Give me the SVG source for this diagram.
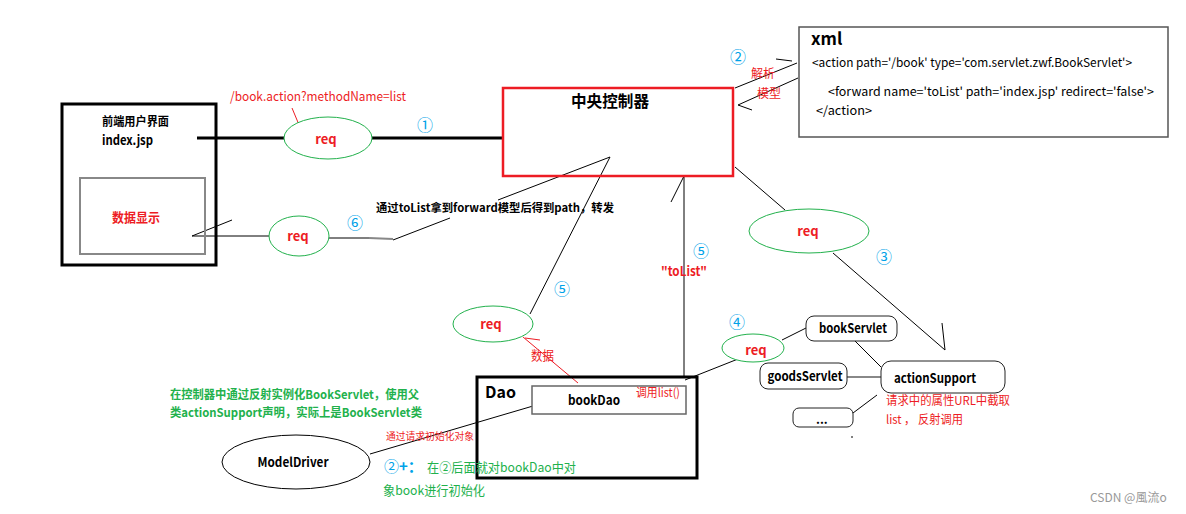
<svg xmlns="http://www.w3.org/2000/svg" width="1186" height="514" viewBox="0 0 1186 514">
<style>
text{font-family:"Microsoft YaHei","Noto Sans CJK SC","Liberation Sans",sans-serif}
.b{font-weight:bold}
.red{fill:#ed1c24}
.grn{fill:#22b14c}
.blu{fill:#00a2e8}
.blk{fill:#000}
.ln{stroke:#000;stroke-width:1;fill:none}
.gl{stroke:#888;stroke-width:2;fill:none}
.ge{stroke:#22b14c;stroke-width:1;fill:#fff}
.rb{stroke:#222;stroke-width:1;fill:#fff}
.num{fill:#00a2e8;font-size:16px}
</style>
<rect width="1186" height="514" fill="#fff"/>

<g id="connectors">
  <!-- index.jsp -> controller -->
  <line x1="197" y1="138" x2="284" y2="138" stroke="#000" stroke-width="3"/>
  <line x1="372" y1="138" x2="503" y2="138" stroke="#000" stroke-width="3"/>
  <line x1="292" y1="108" x2="302" y2="132" stroke="#ed1c24" stroke-width="1"/>
  <!-- forward back to 数据显示 -->
  <polyline class="ln" points="232,220 192,236 270,236"/>
  <line x1="329" y1="238" x2="369" y2="238" class="ln"/>
  <line x1="369" y1="238" x2="393" y2="239" class="gl"/>
  <polyline class="ln" points="393,240 450,218"/>
  <polyline class="ln" points="498,200 610,157 530,314"/>
  <!-- xml parse -->
  <line x1="776" y1="59" x2="792" y2="61" class="ln"/>
  <line x1="797" y1="63" x2="735" y2="88" class="ln"/>
  <polyline class="ln" points="798,78 738,105 752,110"/>
  <!-- controller <-> req3 -> actionSupport -->
  <line x1="735" y1="167" x2="785" y2="210" class="ln"/>
  <polyline class="ln" points="833,253 945,350 942,323"/>
  <!-- "toList" vertical -->
  <line x1="684" y1="176" x2="684" y2="378" class="ln"/>
  <line x1="684" y1="176" x2="671" y2="202" class="ln"/>
  <!-- Dao -> req4 -> bookServlet -->
  <line x1="685" y1="380" x2="738" y2="359" class="ln"/>
  <line x1="782" y1="340" x2="806" y2="328" class="ln"/>
  <!-- servlets -> actionSupport -->
  <line x1="852" y1="338" x2="881" y2="367" class="ln"/>
  <line x1="847" y1="377" x2="881" y2="377" class="gl"/>
  <line x1="853" y1="413" x2="877" y2="395" class="ln"/>
  <line x1="852" y1="436" x2="852" y2="438" class="ln"/>
  <!-- bookDao data -> req5 -->
  <line x1="578" y1="383" x2="523" y2="337" stroke="#ed1c24" stroke-width="1"/>
  <line x1="525" y1="338" x2="540" y2="340" stroke="#ed1c24" stroke-width="1"/>
  <!-- ModelDriver -> bookDao -->
  <line x1="370" y1="454" x2="550" y2="401" class="ln"/>
</g>

<g id="index-jsp">
  <rect x="62" y="104" width="154" height="161" fill="none" stroke="#000" stroke-width="3"/>
  <text x="102" y="126" class="b blk" font-size="12" textLength="67" lengthAdjust="spacingAndGlyphs">前端用户界面</text>
  <text x="102" y="145" class="b blk" font-size="13" textLength="51" lengthAdjust="spacingAndGlyphs">index.jsp</text>
</g>
<g id="data-display">
  <rect x="80" y="178" width="125" height="76" fill="none" stroke="#888" stroke-width="2"/>
  <text x="112" y="222" class="b red" font-size="13" textLength="48" lengthAdjust="spacingAndGlyphs">数据显示</text>
</g>

<g id="req1">
  <ellipse cx="328" cy="138" rx="44" ry="21" class="ge"/>
  <text x="326" y="144" class="b red" font-size="13" text-anchor="middle">req</text>
  <text x="230" y="101" class="red" font-size="13" textLength="176" lengthAdjust="spacingAndGlyphs">/book.action?methodName=list</text>
  <text x="425" y="131" class="num" text-anchor="middle">①</text>
</g>

<g id="req6">
  <ellipse cx="299" cy="236" rx="30" ry="20" class="ge"/>
  <text x="298" y="241" class="b red" font-size="13" text-anchor="middle">req</text>
  <text x="355" y="229" class="num" text-anchor="middle">⑥</text>
  <text x="376" y="212" class="b blk" font-size="11" textLength="238" lengthAdjust="spacingAndGlyphs">通过toList拿到forward模型后得到path，转发</text>
</g>

<g id="controller">
  <rect x="503" y="88" width="230" height="88" fill="none" stroke="#ed1c24" stroke-width="2.5"/>
  <text x="610" y="107" class="b blk" font-size="16" text-anchor="middle" textLength="78" lengthAdjust="spacingAndGlyphs">中央控制器</text>
</g>

<g id="xml">
  <rect x="799" y="27" width="369" height="110" fill="#fff" stroke="#555" stroke-width="1.5"/>
  <text x="811" y="45" class="b blk" font-size="17">xml</text>
  <text x="812" y="67" class="blk" font-size="12" textLength="320" lengthAdjust="spacingAndGlyphs">&lt;action path='/book' type='com.servlet.zwf.BookServlet'&gt;</text>
  <text x="828" y="96" class="blk" font-size="12" textLength="326" lengthAdjust="spacingAndGlyphs">&lt;forward name='toList' path='index.jsp' redirect='false'&gt;</text>
  <text x="816" y="115" class="blk" font-size="12" textLength="56" lengthAdjust="spacingAndGlyphs">&lt;/action&gt;</text>
  <text x="738" y="63" class="num" text-anchor="middle">②</text>
  <text x="751" y="78" class="red" font-size="12">解析</text>
  <text x="757" y="98" class="red" font-size="12">模型</text>
</g>

<g id="req3">
  <ellipse cx="809" cy="231" rx="60" ry="22" class="ge"/>
  <text x="808" y="236" class="b red" font-size="13" text-anchor="middle">req</text>
  <text x="884" y="263" class="num" text-anchor="middle">③</text>
</g>

<g id="tolist-label">
  <text x="701" y="257" class="num" text-anchor="middle">⑤</text>
  <text x="661" y="276" class="b red" font-size="13" textLength="46" lengthAdjust="spacingAndGlyphs">"toList"</text>
</g>

<g id="req5">
  <ellipse cx="493" cy="324" rx="40" ry="18" class="ge"/>
  <text x="491" y="329" class="b red" font-size="13" text-anchor="middle">req</text>
  <text x="562" y="295" class="num" text-anchor="middle">⑤</text>
  <text x="531" y="360" class="red" font-size="13" textLength="23" lengthAdjust="spacingAndGlyphs">数据</text>
</g>

<g id="req4">
  <ellipse cx="753" cy="348" rx="31" ry="14" class="ge"/>
  <text x="756" y="355" class="b red" font-size="13" text-anchor="middle">req</text>
  <text x="737" y="328" class="num" text-anchor="middle">④</text>
</g>

<g id="dao">
  <rect x="477" y="377" width="220" height="101" fill="none" stroke="#000" stroke-width="3"/>
  <text x="485" y="398" class="b blk" font-size="16">Dao</text>
</g>
<g id="bookDao">
  <rect x="532" y="386" width="154" height="28" fill="#fff" stroke="#666" stroke-width="1.5"/>
  <text x="594" y="405" class="b blk" font-size="13" text-anchor="middle" textLength="52" lengthAdjust="spacingAndGlyphs">bookDao</text>
  <text x="636" y="397" class="red" font-size="12" textLength="44" lengthAdjust="spacingAndGlyphs">调用list()</text>
</g>

<g id="bookServlet">
  <rect x="806" y="316" width="91" height="25" rx="8" class="rb"/>
  <text x="853" y="333" class="b blk" font-size="13" text-anchor="middle" textLength="68" lengthAdjust="spacingAndGlyphs">bookServlet</text>
</g>
<g id="goodsServlet">
  <rect x="760" y="363" width="87" height="26" rx="8" class="rb"/>
  <text x="805" y="381" class="b blk" font-size="13" text-anchor="middle" textLength="75" lengthAdjust="spacingAndGlyphs">goodsServlet</text>
</g>
<g id="actionSupport">
  <rect x="881" y="361" width="124" height="32" rx="10" class="rb"/>
  <text x="935" y="383" class="b blk" font-size="13" text-anchor="middle" textLength="82" lengthAdjust="spacingAndGlyphs">actionSupport</text>
  <text x="886" y="405" class="red" font-size="12" textLength="124" lengthAdjust="spacingAndGlyphs">请求中的属性URL中截取</text>
  <text x="886" y="424" class="red" font-size="12" textLength="77" lengthAdjust="spacingAndGlyphs">list ， 反射调用</text>
</g>
<g id="more">
  <rect x="793" y="408" width="60" height="19" rx="6" class="rb"/>
  <text x="816" y="424" class="b blk" font-size="12">...</text>
</g>

<g id="modelDriver">
  <ellipse cx="296" cy="462" rx="74" ry="27" fill="#fff" stroke="#000" stroke-width="1"/>
  <text x="293" y="467" class="b blk" font-size="13" text-anchor="middle" textLength="71" lengthAdjust="spacingAndGlyphs">ModelDriver</text>
  <text x="386" y="440" class="red" font-size="10" textLength="88" lengthAdjust="spacingAndGlyphs">通过请求初始化对象</text>
</g>

<g id="notes">
  <text x="170" y="399" class="b grn" font-size="12" textLength="249" lengthAdjust="spacingAndGlyphs">在控制器中通过反射实例化BookServlet，使用父</text>
  <text x="170" y="417" class="b grn" font-size="12" textLength="252" lengthAdjust="spacingAndGlyphs">类actionSupport声明，实际上是BookServlet类</text>
  <text x="384" y="472" class="blu" font-size="15">②<tspan class="b">+：</tspan></text>
  <text x="427" y="472" class="grn" font-size="13" textLength="149" lengthAdjust="spacingAndGlyphs">在②后面就对bookDao中对</text>
  <text x="383" y="495" class="grn" font-size="13" textLength="102" lengthAdjust="spacingAndGlyphs">象book进行初始化</text>
</g>

<text x="1090" y="502" fill="#999" font-size="12">CSDN @風流o</text>
</svg>
